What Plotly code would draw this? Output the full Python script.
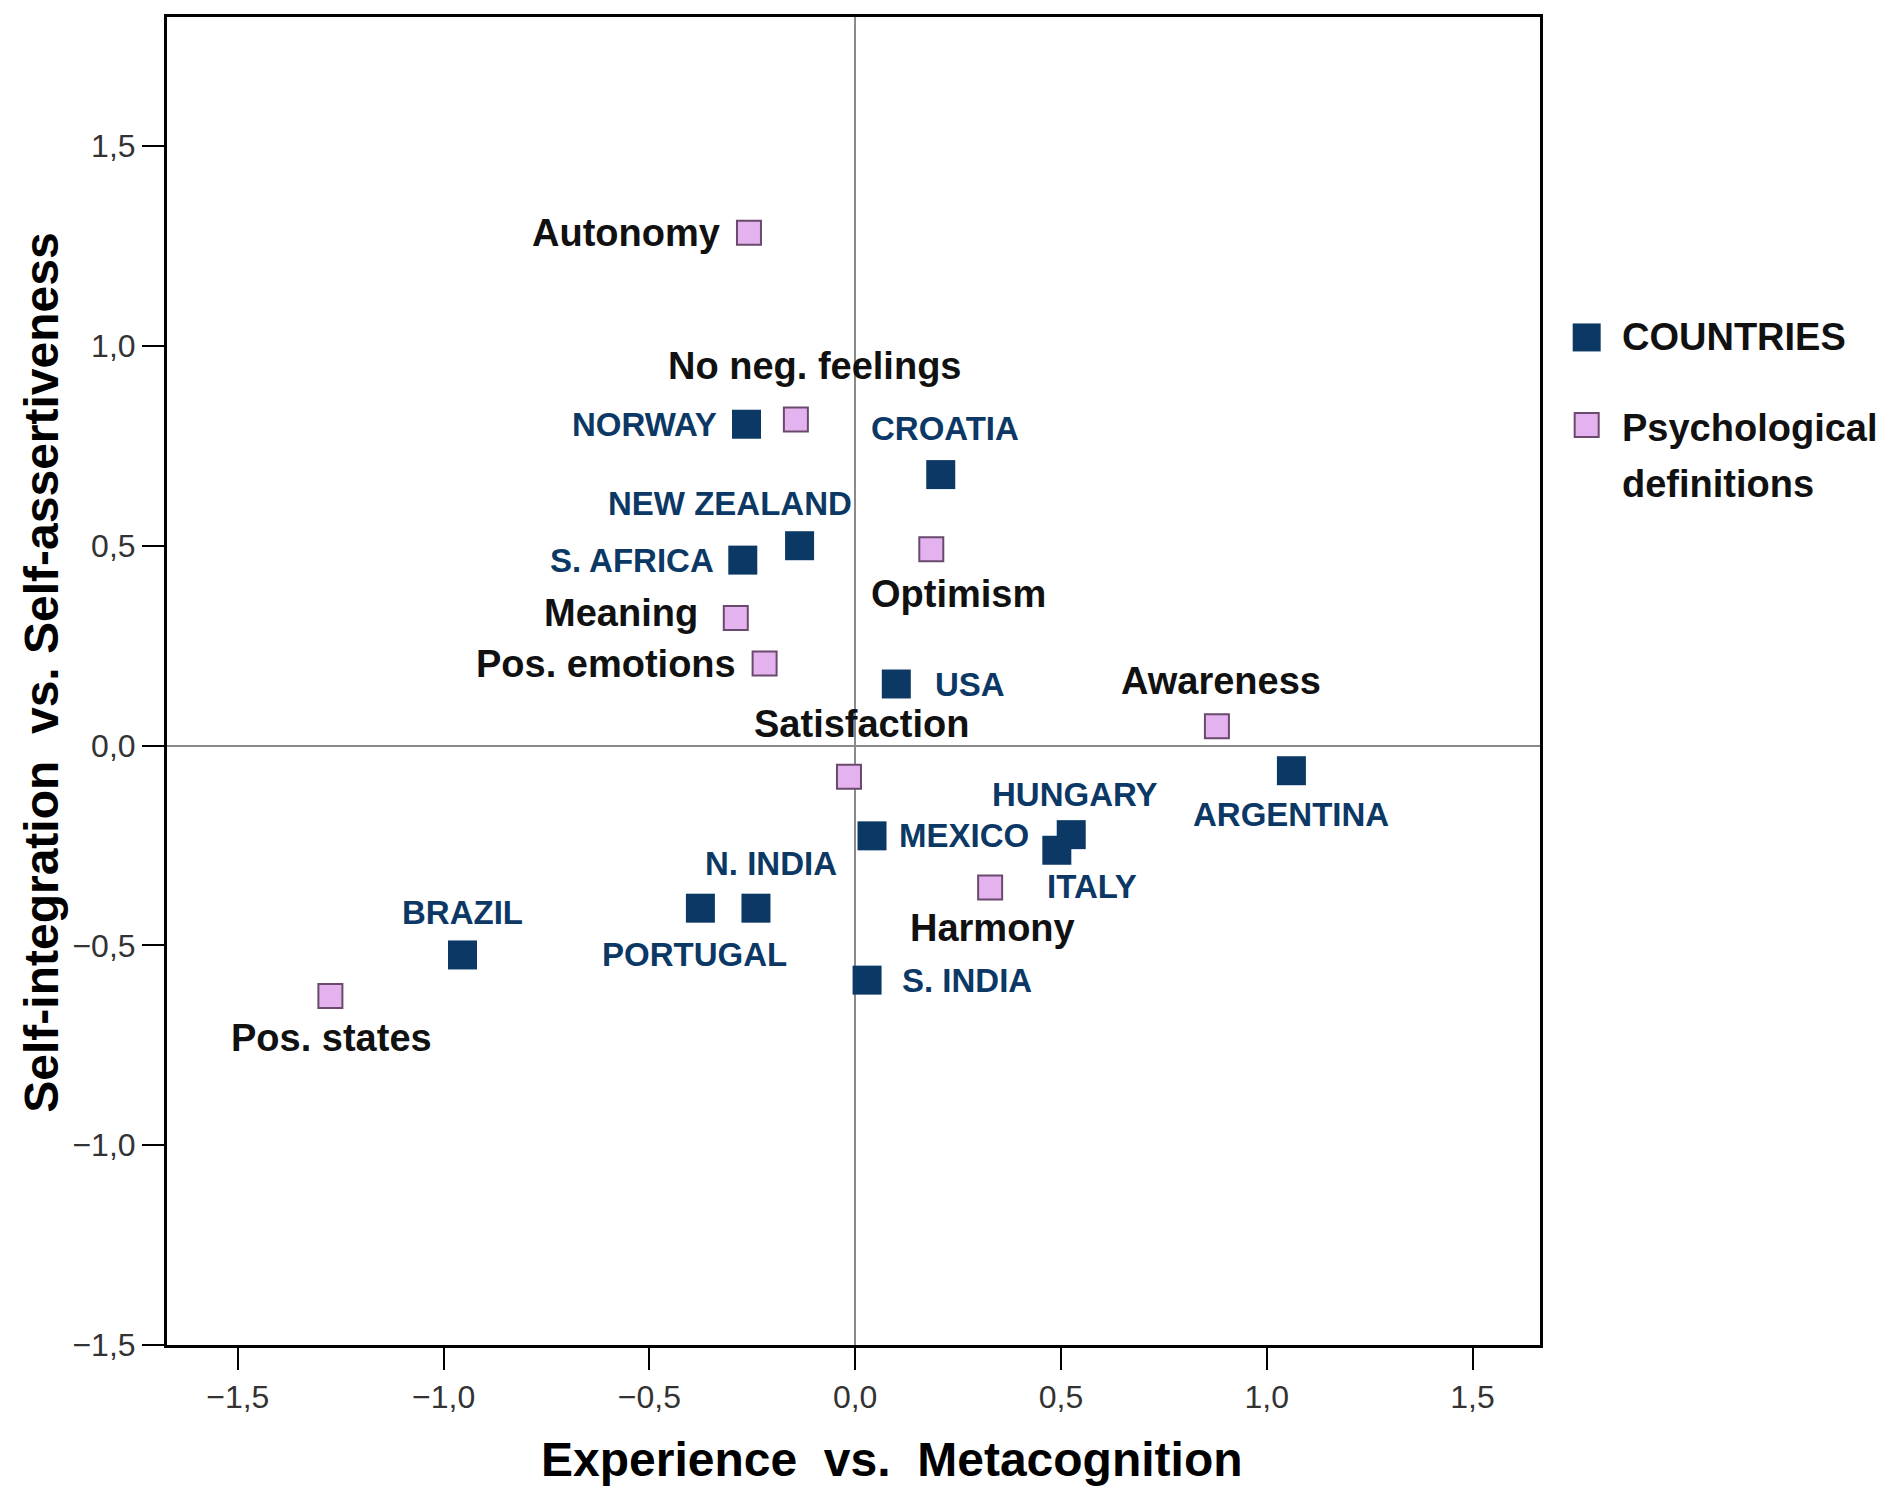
import plotly.graph_objects as go

# countries (dark squares)
countries = ["NORWAY", "CROATIA", "NEW ZEALAND", "S. AFRICA", "USA", "ARGENTINA",
             "HUNGARY", "ITALY", "MEXICO", "N. INDIA", "PORTUGAL", "BRAZIL", "S. INDIA"]
country_x = [-0.264, 0.208, -0.135, -0.273, 0.100, 1.060,
             0.525, 0.490, 0.041, -0.241, -0.376, -0.954, 0.029]
country_y = [0.804, 0.678, 0.500, 0.464, 0.154, -0.063,
             -0.223, -0.262, -0.226, -0.407, -0.407, -0.524, -0.587]

# psychological definitions (pink squares)
definitions = ["Autonomy", "No neg. feelings", "Optimism", "Meaning", "Pos. emotions",
               "Awareness", "Satisfaction", "Harmony", "Pos. states"]
def_x = [-0.258, -0.144, 0.185, -0.290, -0.220, 0.879, -0.015, 0.328, -1.275]
def_y = [1.283, 0.816, 0.491, 0.319, 0.205, 0.048, -0.078, -0.355, -0.627]

tick_vals = [-1.5, -1.0, -0.5, 0.0, 0.5, 1.0, 1.5]

# label placement: (xanchor, xshift, yshift) in pixels
country_label_pos = [("right", -27, 0), ("center", 4, 46), ("center", -70, 42),
                     ("right", -27, 0), ("left", 37, 0), ("center", 0, -44),
                     ("center", 4, 40), ("left", -12, -36), ("left", 25, 0),
                     ("center", 15, 45), ("center", -6, -46), ("center", 0, 42),
                     ("left", 33, 0)]
def_label_pos = [("right", -27, 0), ("center", 19, 53), ("center", 27, -45),
                 ("right", -36, 5), ("right", -27, 0), ("center", 4, 45),
                 ("center", 13, 53), ("center", 2, -41), ("center", 1, -42)]

NAVY = "#0b3865"
PINK = "#e4b3ef"
PINK_EDGE = "#6a4a6c"
FONT = "Liberation Sans, Arial, sans-serif"

fig = go.Figure()
fig.add_trace(go.Scatter(
    x=country_x, y=country_y, mode="markers", name="COUNTRIES",
    marker=dict(symbol="square", size=29, color=NAVY, line=dict(width=0)),
))
fig.add_trace(go.Scatter(
    x=def_x, y=def_y, mode="markers", name="Psychological definitions",
    marker=dict(symbol="square", size=24, color=PINK, line=dict(width=2, color=PINK_EDGE)),
))

for name, x, y, (anchor, dx, dy) in zip(countries, country_x, country_y, country_label_pos):
    fig.add_annotation(x=x, y=y, text=name, showarrow=False, xanchor=anchor,
                       yanchor="middle", xshift=dx, yshift=dy,
                       font=dict(family=FONT, size=33, color=NAVY, weight="bold"))
for name, x, y, (anchor, dx, dy) in zip(definitions, def_x, def_y, def_label_pos):
    fig.add_annotation(x=x, y=y, text=name, showarrow=False, xanchor=anchor,
                       yanchor="middle", xshift=dx, yshift=dy,
                       font=dict(family=FONT, size=38, color="#111111", weight="bold"))

# axis titles
fig.add_annotation(text="Experience  vs.  Metacognition", xref="paper", yref="paper",
                   x=0.528, y=-0.086, showarrow=False, xanchor="center", yanchor="middle",
                   font=dict(family=FONT, size=48, color="black", weight="bold"))
fig.add_annotation(text="Self-integration  vs. Self-assertiveness", xref="paper", yref="paper",
                   x=-0.092, y=0.506, showarrow=False, textangle=-90,
                   xanchor="center", yanchor="middle",
                   font=dict(family=FONT, size=48, color="black", weight="bold"))

# hand-drawn legend (plotly caps legend symbol size)
legend_items = [(NAVY, NAVY, 0, 0.7587, 28), (PINK, PINK_EDGE, 2, 0.6927, 24)]
for fill, edge, lw, py, size in legend_items:
    fig.add_shape(type="rect", xref="paper", yref="paper",
                  xsizemode="pixel", ysizemode="pixel", xanchor=1.034, yanchor=py,
                  x0=-size / 2, x1=size / 2, y0=-size / 2, y1=size / 2,
                  fillcolor=fill, line=dict(color=edge, width=lw))
legend_lines = [("COUNTRIES", 0.7587), ("Psychological", 0.6906), ("definitions", 0.6487)]
for text, py in legend_lines:
    fig.add_annotation(text=text, xref="paper", yref="paper", x=1.058, y=py,
                       showarrow=False, xanchor="left", yanchor="middle",
                       font=dict(family=FONT, size=38, color="#111111", weight="bold"))

axis_common = dict(
    tickvals=tick_vals, tickformat=".1f",
    ticks="outside", ticklen=22, tickwidth=2, tickcolor="black",
    showline=True, linecolor="black", linewidth=3, mirror=True,
    showgrid=False, zeroline=True, zerolinecolor="#8a8a8a", zerolinewidth=2,
    tickfont=dict(family=FONT, size=32, color="#333333"),
)
fig.update_xaxes(range=[-1.672, 1.664], **axis_common)
fig.update_yaxes(range=[-1.5, 1.823], **axis_common)

# page body adds an 8px offset, so margins are trimmed on the left/top
fig.update_layout(
    width=1890, height=1507, autosize=False,
    margin=dict(l=159, r=358, t=6, b=170),
    plot_bgcolor="white", paper_bgcolor="white",
    showlegend=False, separators=", ",
)

fig.write_html("out.html")
